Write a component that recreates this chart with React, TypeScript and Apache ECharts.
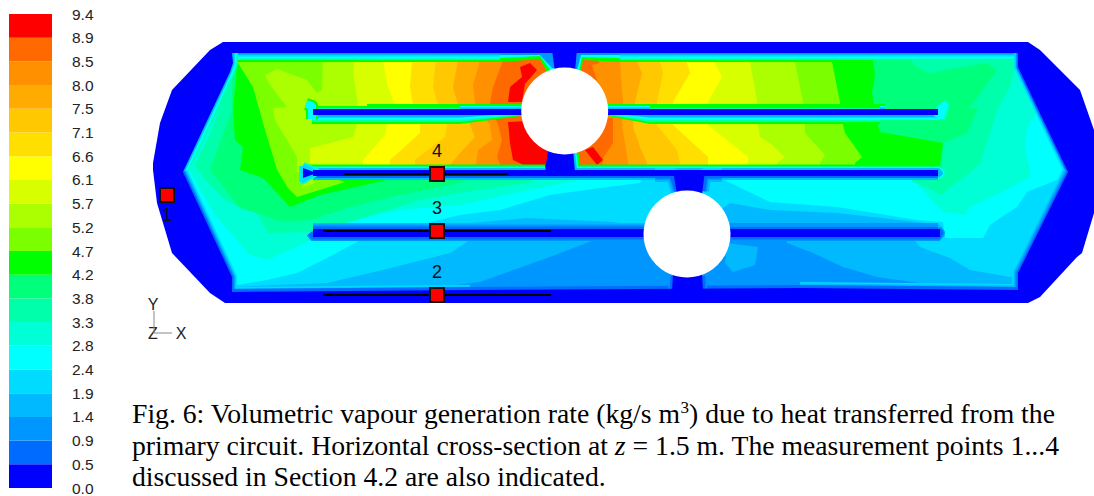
import React, { useEffect, useRef } from "react";
import * as echarts from "echarts";

type P = number[];

// Colour scale, lowest band first
const levelColors = ["#0000ff","#006cff","#0096ff","#00b9ff","#00dcff","#00ffff","#00ffd7","#00ffab","#00ff7b","#00ff00","#7bff00","#abff00","#d7ff00","#ffff00","#ffdf00","#ffc800","#ffab00","#ff9000","#ff6a00","#ff0000"];
const tickLabels = ["0.0","0.5","0.9","1.4","1.9","2.4","2.8","3.3","3.8","4.2","4.7","5.2","5.7","6.1","6.6","7.1","7.5","8.0","8.5","8.9","9.4"];
const scaleMax = 9.4;
const scaleStep = 0.47;

// Geometry of the tank cross-section (plot coordinates)
const tankOutline: P[] = [[223,42],[1028,42],[1040,50],[1080,90],[1094,130],[1094,213],[1082,253],[1077,257],[1040,297],[1028,303],[225,303],[210,293],[172,253],[157,203],[153,170],[153,163],[160,123],[172,90],[210,50]];
const chamber: P[] = [[232,53],[1018,53],[1018,67],[1068,172],[1018,273],[1018,290],[800,288],[470,290],[232,292],[232,277],[183,172],[230,72],[233,63]];
const tubes: P[] = [[564.7,111,43.5],[687,234,43.5]];

// Blue walls and baffles
const walls: P[][] = [
  [[552,50],[577,50],[575,72],[555,72]],
  [[548,150],[573,150],[575,172],[545,172]],
  [[673,170],[705,170],[702,195],[677,195]],
  [[673,274],[702,274],[703,292],[672,292]],
  [[313,109],[938,109],[938,115],[313,115]],
  [[313,170],[938,170],[938,176],[313,176]],
  [[303,168],[314,172],[314,174],[303,178]],
  [[313,229],[940,229],[940,237],[313,237]],
];

// Contour regions: each holds everything at or above its level
const contourL2a: P[] = [[600,238],[547,258],[480,282],[440,287],[460,295],[1000,295],[1000,289],[933,285],[877,277],[843,267],[813,253],[787,243],[787,236]];
const contourL3a: P[] = [[727,243],[758,247],[755,265],[733,272],[725,263]];
const contourL4: P[] = [[225,50],[1020,50],[1072,172],[1020,275],[1010,277],[970,270],[950,258],[920,247],[913,238],[945,237],[940,225],[917,222],[837,213],[770,210],[730,203],[687,234],[650,228],[613,222],[527,218],[460,224],[470,240],[450,253],[383,270],[327,283],[233,287],[180,172]];
const contourL5: P[] = [[225,50],[1020,50],[1072,172],[1057,180],[1027,192],[1017,207],[1000,218],[990,225],[983,238],[945,238],[943,222],[917,220],[837,207],[770,202],[720,178],[707,172],[645,172],[640,183],[600,188],[550,195],[500,210],[460,215],[363,238],[357,242],[327,258],[297,273],[267,280],[237,285],[225,285],[180,172]];
const contourL6: P[] = [[225,50],[1018,50],[1018,60],[1037,113],[1027,127],[1025,150],[1030,170],[1030,177],[1000,193],[970,207],[965,215],[943,212],[913,180],[900,172],[590,172],[580,180],[520,192],[460,205],[400,210],[330,225],[307,242],[267,260],[250,255],[215,215],[190,172]];
const contourL7: P[] = [[225,50],[1015,50],[1015,67],[1010,87],[997,110],[990,133],[980,163],[973,170],[960,180],[940,195],[927,187],[913,182],[905,172],[533,172],[533,182],[460,193],[420,200],[350,222],[310,232],[268,233],[257,213],[240,208],[225,200],[205,180],[195,165],[212,130],[232,70]];
const contourL8: P[] = [[232,50],[900,50],[917,67],[930,73],[987,63],[997,70],[970,107],[962,108],[978,108],[967,133],[943,143],[942,157],[942,172],[480,172],[460,183],[400,195],[350,207],[310,220],[282,222],[257,213],[240,208],[210,170],[218,148],[232,110]];
const contourL9: P[] = [[232,50],[873,50],[873,63],[875,73],[872,93],[878,125],[880,132],[943,143],[940,165],[940,172],[387,172],[387,180],[377,182],[320,195],[290,207],[263,178],[240,170],[243,147],[235,140],[233,110],[237,63]];
const contourL10: P[] = [[238,50],[238,63],[253,87],[265,130],[275,163],[277,170],[288,188],[297,197],[345,182],[325,176],[345,172],[855,172],[855,163],[862,157],[845,133],[843,125],[840,102],[832,62],[832,50]];
const contourL11: P[] = [[323,50],[322,90],[317,93],[307,80],[277,69],[265,75],[270,85],[287,107],[273,108],[275,120],[287,140],[297,157],[297,172],[820,172],[820,163],[825,155],[805,133],[805,125],[803,102],[795,62],[795,50]];
const contourL11b: P[] = [[310,177],[315,183],[302,187]];
const contourL12: P[] = [[355,50],[353,73],[358,103],[357,125],[353,137],[310,148],[310,172],[775,172],[777,163],[785,157],[770,143],[760,137],[758,125],[757,100],[750,62],[750,50]];
const contourL13: P[] = [[383,50],[383,62],[388,87],[395,105],[387,125],[385,135],[363,160],[363,172],[748,172],[748,157],[708,125],[708,102],[722,77],[715,63],[715,50]];
const contourL14: P[] = [[413,50],[410,87],[413,105],[420,125],[420,133],[390,160],[390,172],[708,172],[708,157],[673,125],[673,102],[690,73],[687,63],[687,50]];
const contourL15: P[] = [[437,50],[433,87],[438,105],[447,125],[445,137],[415,160],[415,172],[680,172],[680,163],[677,150],[657,125],[657,102],[663,73],[660,62],[660,50]];
const contourL16: P[] = [[460,50],[453,87],[458,105],[470,125],[475,137],[460,153],[450,165],[450,172],[647,172],[647,163],[640,147],[633,127],[635,102],[642,73],[637,62],[637,50]];
const contourL17: P[] = [[483,50],[473,85],[475,103],[490,125],[492,140],[478,150],[475,172],[628,172],[628,163],[625,143],[622,127],[623,102],[620,63],[620,50]];
const contourL18a: P[] = [[507,50],[493,87],[490,103],[498,125],[502,140],[497,157],[503,172],[560,172],[560,50]];
const contourL18b: P[] = [[570,172],[602,172],[603,158],[613,143],[613,118],[570,118]];
const contourL18c: P[] = [[586,50],[600,63],[592,65],[597,80],[585,88],[570,88],[570,50]];
const contourL19a: P[] = [[530,63],[520,67],[522,77],[510,87],[508,102],[522,102],[525,84],[537,70]];
const contourL19b: P[] = [[508,122],[510,143],[513,160],[530,168],[548,168],[548,120]];
const contourL19c: P[] = [[593,147],[603,160],[597,165],[585,150]];

const fieldLevels = [2,3,4,5,6,7,8,9,10,11,11,12,13,14,15,16,17,18,18,18,19,19,19];
const fieldContours = [contourL2a,contourL3a,contourL4,contourL5,contourL6,contourL7,contourL8,contourL9,contourL10,contourL11,contourL11b,contourL12,contourL13,contourL14,contourL15,contourL16,contourL17,contourL18a,contourL18b,contourL18c,contourL19a,contourL19b,contourL19c];

// Boundary layers that taper towards the upper tube
const wedgeLevels = [9,7,5,3, 9,7,5,3, 9,5,2, 9,5,2];
const wedgeContours: P[][] = [
  [[460,112],[460,124],[521,116],[521,112]],
  [[460,112],[460,122],[521,115],[521,112]],
  [[460,112],[460,120],[521,114],[521,112]],
  [[460,112],[460,117.5],[521,113],[521,112]],
  [[608,112],[608,116],[650,124],[650,112]],
  [[608,112],[608,115],[650,122],[650,112]],
  [[608,112],[608,114],[650,120],[650,112]],
  [[608,112],[608,113],[650,117.5],[650,112]],
  [[500,50],[500,62],[540,59],[547,72],[556,72],[552,50]],
  [[500,50],[500,58],[540,56],[550,70],[556,70],[552,50]],
  [[500,50],[500,55],[540,55],[552,68],[556,68],[552,50]],
  [[620,50],[620,62],[583,60],[581,72],[575,72],[577,50]],
  [[620,50],[620,58],[582,57],[579,72],[575,72],[577,50]],
  [[620,50],[620,55],[581,55],[577,70],[575,70],[577,50]],
];

// Boundary layers along walls
const edgeTopLeft: P[] = [[225,53],[500,53]];
const edgeTopMid: P[] = [[620,53],[870,53]];
const edgeTopLong: P[] = [[620,53],[1018,53]];
const edgeTopHot: P[] = [[620,53],[990,53]];
const edgeLeftUp: P[] = [[233,53],[233,63],[230,72],[183,172]];
const edgeRightUp: P[] = [[1018,53],[1018,67],[1068,172]];
const edgeLeftLow: P[] = [[183,172],[232,277],[232,292],[470,290]];
const edgeRightLow: P[] = [[1068,172],[1018,273],[1018,290],[800,288]];
const edgeBottom: P[] = [[232,292],[470,290],[800,288],[1018,290]];
const wallTopLeft: P[] = [[303,170],[545,170]];
const wallTopRight: P[] = [[573,153],[575,170],[870,170]];
const wallTopEnd: P[] = [[573,153],[575,170],[938,170],[941,173],[938,176]];
const wallUnder: P[] = [[313,176],[672,176],[677,191]];
const wallUnderRight: P[] = [[703,191],[705,176],[938,176]];
const tubeShoulderL: P[] = [[655,176],[672,176],[677,191]];
const tubeShoulderR: P[] = [[703,191],[705,176],[722,176]];
const tipLeft: P[] = [[303,166],[316,172],[303,180],[303,166]];
const baffleTopA: P[] = [[367,109],[522,109]];
const baffleTopB: P[] = [[608,109],[885,109]];
const baffleUnderA: P[] = [[312,115],[460,115]];
const baffleUnderB: P[] = [[650,115],[880,115]];
const baffleUnderC: P[] = [[650,115],[938,115],[941,112]];
const hookLeft: P[] = [[306,104],[312,106],[312,119]];
const hookRight: P[] = [[941,104],[943,106],[939,118]];
const lowBaffleTop: P[] = [[313,229],[645,229]];
const lowBaffleTopR: P[] = [[730,229],[938,229]];
const lowBaffleUnder: P[] = [[310,233],[313,237],[645,237]];
const lowBaffleUnderR: P[] = [[730,237],[938,237],[941,233],[938,229]];
const lowTubeUnderL: P[] = [[673,276],[672,290]];
const lowTubeUnderR: P[] = [[703,276],[703,290]];

// Each boundary layer: [path, [[level, thickness], ...]]
const boundaryLayers: any[] = [
  [edgeTopLeft, [[9,18],[7,14],[5,11],[4,7],[2,3]]],
  [edgeTopMid, [[9,18]]],
  [edgeTopHot, [[7,14]]],
  [edgeTopLong, [[5,11],[4,7],[2,3]]],
  [edgeLeftUp, [[7,10],[5,7],[3,3]]],
  [edgeRightUp, [[4,8],[3,5],[1,3]]],
  [edgeLeftLow, [[4,10],[3,7],[2,5],[1,3]]],
  [edgeRightLow, [[4,12],[3,9],[2,6],[1,3]]],
  [edgeBottom, [[1,6]]],
  [wallTopLeft, [[9,11],[5,7],[3,4]]],
  [wallTopRight, [[9,11]]],
  [wallTopEnd, [[5,7],[3,4]]],
  [wallUnder, [[3,8],[1,4]]],
  [wallUnderRight, [[3,8],[1,4]]],
  [tubeShoulderL, [[4,16],[3,12],[2,8],[1,5]]],
  [tubeShoulderR, [[4,16],[3,12],[2,8],[1,5]]],
  [tipLeft, [[6,8],[4,5]]],
  [baffleTopA, [[9,10],[5,6],[3,3]]],
  [baffleTopB, [[9,10],[5,6],[3,3]]],
  [baffleUnderA, [[9,18],[7,14],[5,10],[3,5]]],
  [baffleUnderB, [[9,18],[7,14]]],
  [baffleUnderC, [[5,10],[3,5]]],
  [hookLeft, [[9,12],[5,8]]],
  [hookRight, [[6,12],[5,8]]],
  [lowBaffleTop, [[3,12],[2,9],[1,5]]],
  [lowBaffleTopR, [[2,12],[1,4]]],
  [lowBaffleUnder, [[2,8],[1,5]]],
  [lowBaffleUnderR, [[2,8],[1,5]]],
  [lowTubeUnderL, [[2,8],[1,5]]],
  [lowTubeUnderR, [[2,8],[1,5]]],
];
const rimStrokes: any[] = boundaryLayers.flatMap(([path, layers]) => layers.map((l: number[]) => ({ path, level: l[0], width: l[1] })));

// Measurement probes
const probeTraces: P[][] = [[[344,174],[508,174]],[[323,231],[551,231]],[[323,295],[551,295]]];
const probePoints: P[] = [[167,195],[437,295],[437,231],[437,174]];
const probeNames = ["1","2","3","4"];

const captionFont = '"Liberation Serif","Times New Roman",serif';
const sansFont = '"Liberation Sans",Arial,sans-serif';

function option(): any {
  const polygonItem = (pts: P[], fill: string, api: any) => ({
    type: "polygon",
    shape: { points: pts.map((p) => api.coord(p)) },
    style: { fill },
    silent: true,
  });
  const ring = [...tankOutline, tankOutline[0], chamber[0], ...chamber.slice(1).reverse(), chamber[0]];
  const indices = (n: number) => Array.from({ length: n }, (_, i) => [i, i]);
  const base = { type: "custom", coordinateSystem: "cartesian2d", xAxisIndex: 0, yAxisIndex: 0, clip: false, silent: true, animation: false };
  const series: any[] = [
    { ...base, z: 2, data: [[0, 0]], renderItem: (_: any, api: any) => polygonItem(chamber, levelColors[3], api) },
    { ...base, z: 3, data: indices(fieldContours.length), renderItem: (p: any, api: any) => polygonItem(fieldContours[p.dataIndex], levelColors[fieldLevels[p.dataIndex]], api) },
    {
      ...base, z: 4, data: indices(rimStrokes.length),
      renderItem: (p: any, api: any) => {
        const r = rimStrokes[p.dataIndex];
        return {
          type: "polyline",
          shape: { points: r.path.map((q: P) => api.coord(q)) },
          style: { fill: "none", stroke: levelColors[r.level], lineWidth: r.width, lineJoin: "round", lineCap: "butt" },
          silent: true,
        };
      },
    },
    { ...base, z: 4.5, data: indices(wedgeContours.length), renderItem: (p: any, api: any) => polygonItem(wedgeContours[p.dataIndex], levelColors[wedgeLevels[p.dataIndex]], api) },
    { ...base, z: 5, data: indices(walls.length), renderItem: (p: any, api: any) => polygonItem(walls[p.dataIndex], levelColors[0], api) },
    { ...base, z: 6, data: [[0, 0]], renderItem: (_: any, api: any) => polygonItem(ring, levelColors[0], api) },
    {
      ...base, z: 7, data: indices(tubes.length),
      renderItem: (p: any, api: any) => {
        const t = tubes[p.dataIndex];
        const c = api.coord([t[0], t[1]]);
        const r = api.size([t[2], 0])[0];
        return { type: "circle", shape: { cx: c[0], cy: c[1], r }, style: { fill: "#ffffff" }, silent: true };
      },
    },
    ...probeTraces.map((d) => ({ type: "line", xAxisIndex: 0, yAxisIndex: 0, z: 8, data: d, showSymbol: false, silent: true, lineStyle: { color: "#000000", width: 2 } })),
    {
      type: "scatter", xAxisIndex: 0, yAxisIndex: 0, z: 9, silent: true, symbol: "rect", symbolSize: 14,
      itemStyle: { color: "#ff0000", borderColor: "#111111", borderWidth: 2, opacity: 1 },
      data: probePoints.map((v, i) => ({
        value: v,
        label: { show: true, formatter: probeNames[i], position: i === 0 ? "bottom" : "top", distance: i === 0 ? 3 : 6, fontFamily: sansFont, fontSize: 18, color: "#111111" },
      })),
    },
    ...[[[154,311],[154,333],[172,333]]].map((d) => ({ type: "line", xAxisIndex: 0, yAxisIndex: 0, z: 8, data: d, showSymbol: false, silent: true, lineStyle: { color: "#888888", width: 1 } })),
    {
      type: "custom", coordinateSystem: "cartesian2d", xAxisIndex: 1, yAxisIndex: 1, silent: true, clip: false,
      data: levelColors.map((_, i) => [i, i]),
      renderItem: (p: any, api: any) => {
        const a = api.coord([0, p.dataIndex * scaleStep]);
        const b = api.coord([1, (p.dataIndex + 1) * scaleStep]);
        return { type: "rect", shape: { x: a[0], y: b[1], width: b[0] - a[0], height: a[1] - b[1] }, style: { fill: levelColors[p.dataIndex] }, silent: true };
      },
    },
  ];
  const triadText = (text: string, x: number, y: number) => ({
    type: "text", x, y, silent: true, style: { text, fontFamily: sansFont, fontSize: 16, fill: "#222222", align: "center", verticalAlign: "middle" },
  });
  const captionRich = {
    i: { fontFamily: captionFont, fontSize: 27.7, fontStyle: "italic", fill: "#000000" },
    s: { fontFamily: captionFont, fontSize: 17, fill: "#000000", padding: [0, 0, 12, 0] },
  };
  const caption = (text: string, y: number) => ({
    type: "text", x: 132, y, silent: true,
    style: { text, fontFamily: captionFont, fontSize: 27.7, fill: "#000000", align: "left", verticalAlign: "middle", rich: captionRich },
  });
  return {
    animation: false,
    backgroundColor: "#ffffff",
    tooltip: { show: false },
    grid: [
      { left: 0, top: 0, width: 1094, height: 496 },
      { left: 9, top: 14, width: 43, height: 476 },
    ],
    xAxis: [
      { type: "value", gridIndex: 0, min: 0, max: 1094, show: false },
      { type: "value", gridIndex: 1, min: 0, max: 1, show: false },
    ],
    yAxis: [
      { type: "value", gridIndex: 0, min: 0, max: 496, inverse: true, show: false },
      {
        type: "value", gridIndex: 1, min: 0, max: scaleMax, interval: scaleStep, position: "right",
        axisLine: { show: false }, axisTick: { show: false }, splitLine: { show: false },
        axisLabel: {
          show: true, margin: 20, fontFamily: sansFont, fontSize: 15.5, color: "#222222", showMinLabel: true, showMaxLabel: true,
          formatter: (v: number) => tickLabels[Math.round(v / scaleStep)],
        },
      },
    ],
    series,
    graphic: [
      triadText("Y", 153, 304),
      triadText("Z", 153, 333),
      triadText("X", 181, 333),
      caption("Fig. 6: Volumetric vapour generation rate (kg/s m{s|3}) due to heat transferred from the", 413),
      caption("primary circuit. Horizontal cross-section at {i|z} = 1.5 m. The measurement points 1...4", 445),
      caption("discussed in Section 4.2 are also indicated.", 476),
    ],
  };
}

export default function App() {
  const ref = useRef<HTMLDivElement>(null);
  useEffect(() => {
    document.body.style.margin = "0";
    const chart = echarts.init(ref.current!, undefined, { renderer: "svg" });
    chart.setOption(option());
    return () => chart.dispose();
  }, []);
  return <div ref={ref} style={{ width: 1094, height: 496 }} />;
}
